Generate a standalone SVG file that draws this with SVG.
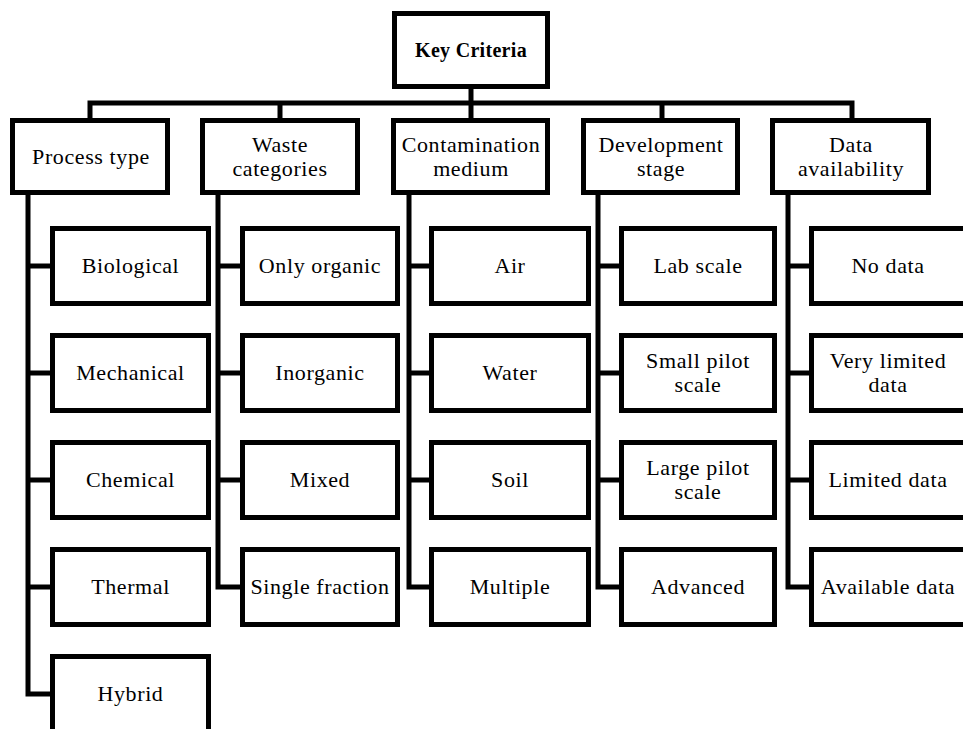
<svg xmlns="http://www.w3.org/2000/svg" width="963" height="729" viewBox="0 0 963 729">
<style>
.box{fill:#fff;stroke:#000;stroke-width:5;}
.ln{fill:none;stroke:#000;stroke-width:5;}
text{font-size:22px;letter-spacing:0.6px;text-anchor:middle;fill:#000;}
.bold{font-weight:bold;font-size:20px;letter-spacing:0.3px;}
</style>
<rect width="963" height="729" fill="#fff"/>
<g id="connectors">
<path class="ln" d="M471,89 V103"/>
<path class="ln" d="M90,118 V103 H852 V118"/>
<path class="ln" d="M280,103 V118"/>
<path class="ln" d="M471,103 V118"/>
<path class="ln" d="M662,103 V118"/>
<path class="ln" d="M28,195 V694 H52"/>
<path class="ln" d="M28,266 H52 M28,373 H52 M28,480 H52 M28,587 H52"/>
<path class="ln" d="M218,195 V587 H242"/>
<path class="ln" d="M218,266 H242 M218,373 H242 M218,480 H242"/>
<path class="ln" d="M409,195 V587 H431"/>
<path class="ln" d="M409,266 H431 M409,373 H431 M409,480 H431"/>
<path class="ln" d="M598,195 V587 H621"/>
<path class="ln" d="M598,266 H621 M598,373 H621 M598,480 H621"/>
<path class="ln" d="M788,195 V587 H811"/>
<path class="ln" d="M788,266 H811 M788,373 H811 M788,480 H811"/>
</g>
<g font-family="Liberation Serif, DejaVu Serif, serif">
<g id="key-criteria"><rect class="box" x="394.5" y="13.5" width="153" height="73"/><text class="bold" x="471" y="57">Key Criteria</text></g>
<g id="process-type"><rect class="box" x="12.5" y="120.5" width="155" height="72"/><text x="91" y="164">Process type</text></g>
<g id="waste-categories"><rect class="box" x="202.5" y="120.5" width="155" height="72"/><text x="280" y="152">Waste</text><text x="280" y="176">categories</text></g>
<g id="contamination-medium"><rect class="box" x="393.5" y="120.5" width="154" height="72"/><text x="471" y="152">Contamination</text><text x="471" y="176">medium</text></g>
<g id="development-stage"><rect class="box" x="583.5" y="120.5" width="154" height="72"/><text x="661" y="152">Development</text><text x="661" y="176">stage</text></g>
<g id="data-availability"><rect class="box" x="772.5" y="120.5" width="156" height="72"/><text x="851" y="152">Data</text><text x="851" y="176">availability</text></g>

<g id="biological"><rect class="box" x="52.5" y="228.5" width="156" height="75"/><text x="130.5" y="273">Biological</text></g>
<g id="mechanical"><rect class="box" x="52.5" y="335.5" width="156" height="75"/><text x="130.5" y="380">Mechanical</text></g>
<g id="chemical"><rect class="box" x="52.5" y="442.5" width="156" height="75"/><text x="130.5" y="487">Chemical</text></g>
<g id="thermal"><rect class="box" x="52.5" y="549.5" width="156" height="75"/><text x="130.5" y="594">Thermal</text></g>
<g id="hybrid"><rect class="box" x="52.5" y="656.5" width="156" height="75"/><text x="130.5" y="701">Hybrid</text></g>

<g id="only-organic"><rect class="box" x="242.5" y="228.5" width="155" height="75"/><text x="320" y="273">Only organic</text></g>
<g id="inorganic"><rect class="box" x="242.5" y="335.5" width="155" height="75"/><text x="320" y="380">Inorganic</text></g>
<g id="mixed"><rect class="box" x="242.5" y="442.5" width="155" height="75"/><text x="320" y="487">Mixed</text></g>
<g id="single-fraction"><rect class="box" x="242.5" y="549.5" width="155" height="75"/><text x="320" y="594">Single fraction</text></g>

<g id="air"><rect class="box" x="431.5" y="228.5" width="157" height="75"/><text x="510" y="273">Air</text></g>
<g id="water"><rect class="box" x="431.5" y="335.5" width="157" height="75"/><text x="510" y="380">Water</text></g>
<g id="soil"><rect class="box" x="431.5" y="442.5" width="157" height="75"/><text x="510" y="487">Soil</text></g>
<g id="multiple"><rect class="box" x="431.5" y="549.5" width="157" height="75"/><text x="510" y="594">Multiple</text></g>

<g id="lab-scale"><rect class="box" x="621.5" y="228.5" width="153" height="75"/><text x="698" y="273">Lab scale</text></g>
<g id="small-pilot-scale"><rect class="box" x="621.5" y="335.5" width="153" height="75"/><text x="698" y="368">Small pilot</text><text x="698" y="392">scale</text></g>
<g id="large-pilot-scale"><rect class="box" x="621.5" y="442.5" width="153" height="75"/><text x="698" y="475">Large pilot</text><text x="698" y="499">scale</text></g>
<g id="advanced"><rect class="box" x="621.5" y="549.5" width="153" height="75"/><text x="698" y="594">Advanced</text></g>

<g id="no-data"><rect class="box" x="811.5" y="228.5" width="155" height="75"/><text x="888" y="273">No data</text></g>
<g id="very-limited-data"><rect class="box" x="811.5" y="335.5" width="155" height="75"/><text x="888" y="368">Very limited</text><text x="888" y="392">data</text></g>
<g id="limited-data"><rect class="box" x="811.5" y="442.5" width="155" height="75"/><text x="888" y="487">Limited data</text></g>
<g id="available-data"><rect class="box" x="811.5" y="549.5" width="155" height="75"/><text x="888" y="594">Available data</text></g>
</g>
</svg>
